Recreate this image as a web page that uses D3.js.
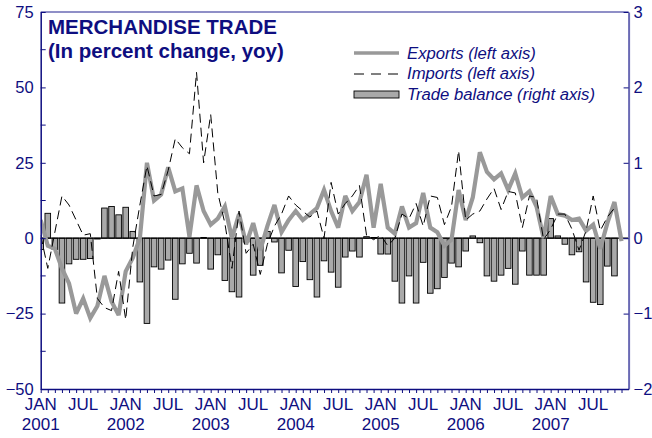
<!DOCTYPE html>
<html>
<head>
<meta charset="utf-8">
<script src="https://cdn.jsdelivr.net/npm/d3@7"></script>
<style>
  html, body { margin: 0; padding: 0; background: #fff; }
  svg { display: block; }
  text { font-family: "Liberation Sans", Arial, sans-serif; }
</style>
</head>
<body>
<svg id="chart" width="652" height="438"></svg>
<script>
// ---- Data (monthly, Jan 2001 = index 0) ----
const startYear = 2001;
const exportsYoY = [6, -2.5, -3.5, -10, -15, -25, -20, -26.5, -22.5, -12.5, -21, -25.5,
  -11, -6.5, 0, 25, 12.5, 14.5, 23.5, 15.5, 16.5, 0.5, 17.5, 9,
  4.5, 6.5, 10.5, 0, 8, -2, 5, -4, 4, 11, 2, 6,
  9, 6, 8, 10, 16, 9, 3.5, 14, 9, 12, 21, 3.5,
  18, 3.5, 1.5, 10.5, 3.5, 5, 15, 3.5, 2, -2.5, -0.5, 16,
  6, 13.5, 28.5, 22, 19.5, 21.5, 16, 21.5, 13.5, 15.5, 10.5, 0,
  14, 8, 7.5, 6, 6.5, 2.5, 4.5, -3.5, 5, 12, -1];
const importsYoY = [1, -10, 2, 14, 11, 6, 1, 1.5, -20, -23, -24, -11,
  -27, -3, 11, 24, 14, 14.5, 22.5, 33, 30, 28, 55, 25,
  41, 15, 5, -10, 9, -5, -2, -12, -2, 4, 8, 14,
  11, 9, 7, 9, 0, 18.5, 8, 11.5, 14, 17.5, 1, -0.5,
  1, -2.5, 0, 8, 6.5, 11.5, 4, 14, 13.5, 4.5, 10.5, 29,
  6, 8, 9, 13, 16.5, 9.5, 15.5, 15, 3.5, 14, 13.5, -0.5,
  3, 8, 8, 3, -4, 2.5, 14, 2.5, 7, 10];
const tradeBalance = [-0.15, 0.33, -0.15, -0.86, -0.34, -0.28, -0.28, -0.27, -0.01, 0.40, 0.42, 0.31,
  0.41, 0.09, -0.58, -1.13, -0.38, -0.41, -0.29, -0.81, -0.34, -0.20, -0.33, 0.01,
  -0.41, -0.22, -0.56, -0.71, -0.78, -0.05, -0.49, -0.36, 0.09, -0.05, -0.46, -0.16,
  -0.64, -0.31, -0.55, -0.78, -0.30, -0.45, -0.65, -0.25, -0.17, -0.25, 0.02, 0.01,
  -0.21, -0.21, -0.57, -0.86, -0.50, -0.86, -0.32, -0.73, -0.67, -0.52, -0.33, -0.38,
  -0.17, 0.03, -0.06, -0.50, -0.57, -0.49, -0.40, -0.61, -0.17, -0.49, -0.49, -0.49,
  0.26, 0.03, -0.08, -0.22, -0.18, -0.58, -0.85, -0.88, -0.37, -0.50];
const leftTicks = [75, 50, 25, 0, -25, -50];
const leftMinorTicks = [62.5, 37.5, 12.5, -12.5, -37.5];
const rightTicks = [3, 2, 1, 0, -1, -2];
const monthLabels = ["JAN", "JUL"];
const titleLines = ["MERCHANDISE TRADE", "(In percent change, yoy)"];
const legendLabels = ["Exports (left axis)", "Imports (left axis)", "Trade balance (right axis)"];
const nMonthTicks = 83;

// ---- Layout ----
const L = 40.7, R = 628.6, T = 12, B = 389;
const navy = "#0e0e80";
const lightAxis = "#6a6ab4";
const svg = d3.select("#chart");

const x = d3.scaleLinear().domain([0, 83]).range([L, R]);
const yL = d3.scaleLinear().domain([-50, 75]).range([B, T]);
const yR = d3.scaleLinear().domain([-2, 3]).range([B, T]);

svg.append("defs").append("clipPath").attr("id", "plotclip")
  .append("rect").attr("x", L).attr("y", T).attr("width", R - L).attr("height", B - T);

const plot = svg.append("g").attr("clip-path", "url(#plotclip)");

// Bars (right axis)
const bw = 5.6;
plot.selectAll("rect.bar").data(tradeBalance).enter().append("rect")
  .attr("class", "bar")
  .attr("x", (d, i) => x(i) - bw / 2)
  .attr("width", bw)
  .attr("y", d => Math.min(yR(d), yR(0)))
  .attr("height", d => Math.max(Math.abs(yR(d) - yR(0)), 0.8))
  .attr("fill", "#a9a9a9")
  .attr("stroke", "#000")
  .attr("stroke-width", 0.9);

// Zero line
plot.append("line").attr("x1", L).attr("x2", R)
  .attr("y1", yL(0)).attr("y2", yL(0))
  .attr("stroke", "#000").attr("stroke-width", 1.3);

// Exports line
const lineL = d3.line().x((d, i) => x(i)).y(d => yL(d));
plot.append("path").datum(exportsYoY)
  .attr("d", lineL).attr("fill", "none")
  .attr("stroke", "#999999").attr("stroke-width", 4.2)
  .attr("stroke-linejoin", "miter").attr("stroke-miterlimit", 3);

// Imports line
plot.append("path").datum(importsYoY)
  .attr("d", lineL).attr("fill", "none")
  .attr("stroke", "#000").attr("stroke-width", 1)
  .attr("stroke-dasharray", "9,5");

// Top border
svg.append("line").attr("x1", L).attr("x2", R).attr("y1", T).attr("y2", T)
  .attr("stroke", lightAxis).attr("stroke-width", 1.5);

// Left axis
const gL = svg.append("g").attr("transform", `translate(${L},0)`)
  .call(d3.axisLeft(yL).tickValues(leftTicks).tickFormat(d3.format("d"))
    .tickSizeInner(-5).tickSizeOuter(0).tickPadding(7));
gL.select(".domain").attr("stroke", navy).attr("stroke-width", 1.5);
gL.selectAll(".tick line").attr("stroke", navy).attr("stroke-width", 1);
gL.selectAll(".tick text").attr("fill", navy).attr("font-size", 16.5)
  .style("font-family", "'Liberation Sans', Arial, sans-serif");
gL.selectAll("line.minor").data(leftMinorTicks).enter().append("line")
  .attr("class", "minor")
  .attr("x1", 0).attr("x2", 5).attr("y1", d => yL(d)).attr("y2", d => yL(d))
  .attr("stroke", navy).attr("stroke-width", 1);

// Right axis
const gR = svg.append("g").attr("transform", `translate(${R},0)`)
  .call(d3.axisRight(yR).tickValues(rightTicks).tickFormat(d3.format("d"))
    .tickSizeInner(-5).tickSizeOuter(0).tickPadding(5));
gR.select(".domain").attr("stroke", lightAxis).attr("stroke-width", 2);
gR.selectAll(".tick line").attr("stroke", navy).attr("stroke-width", 1);
gR.selectAll(".tick text").attr("fill", navy).attr("font-size", 16.5)
  .style("font-family", "'Liberation Sans', Arial, sans-serif");

// Bottom axis
const gB = svg.append("g").attr("transform", `translate(0,${B})`)
  .call(d3.axisBottom(x).tickValues(d3.range(0, nMonthTicks)).tickSize(4).tickSizeOuter(0).tickFormat(""));
gB.select(".domain").attr("stroke", navy).attr("stroke-width", 1.5);
gB.selectAll(".tick line").attr("stroke", navy).attr("stroke-width", 1);

const labelIdx = d3.range(0, nMonthTicks, 6);
gB.selectAll("text.mlab").data(labelIdx).enter().append("text")
  .attr("class", "mlab")
  .attr("x", d => x(d)).attr("y", 21)
  .attr("text-anchor", "middle").attr("fill", navy).attr("font-size", 17)
  .text(d => monthLabels[(d / 6) % 2]);
gB.selectAll("text.ylab").data(labelIdx.filter(d => d % 12 === 0)).enter().append("text")
  .attr("class", "ylab")
  .attr("x", d => x(d)).attr("y", 41)
  .attr("text-anchor", "middle").attr("fill", navy).attr("font-size", 17)
  .text(d => startYear + d / 12);

// Title
svg.append("text").attr("x", 48).attr("y", 33.5)
  .attr("fill", navy).attr("font-size", 20.5).attr("font-weight", "bold")
  .text(titleLines[0]);
svg.append("text").attr("x", 48).attr("y", 57.5)
  .attr("fill", navy).attr("font-size", 20.5).attr("font-weight", "bold")
  .text(titleLines[1]);

// Legend
const lx1 = 354, lx2 = 399, tx = 407;
svg.append("line").attr("x1", lx1).attr("x2", lx2).attr("y1", 53).attr("y2", 53)
  .attr("stroke", "#999999").attr("stroke-width", 3.5);
svg.append("line").attr("x1", lx1).attr("x2", lx2).attr("y1", 74).attr("y2", 74)
  .attr("stroke", "#000").attr("stroke-width", 1).attr("stroke-dasharray", "10,7");
svg.append("rect").attr("x", lx1).attr("y", 91).attr("width", lx2 - lx1).attr("height", 7)
  .attr("fill", "#a9a9a9").attr("stroke", "#000").attr("stroke-width", 0.9);
const legY = [59, 79, 100];
legendLabels.forEach((t, k) => {
  svg.append("text").attr("x", tx).attr("y", legY[k])
    .attr("fill", navy).attr("font-size", 16.7).attr("font-style", "italic")
    .text(t);
});
</script>
</body>
</html>
